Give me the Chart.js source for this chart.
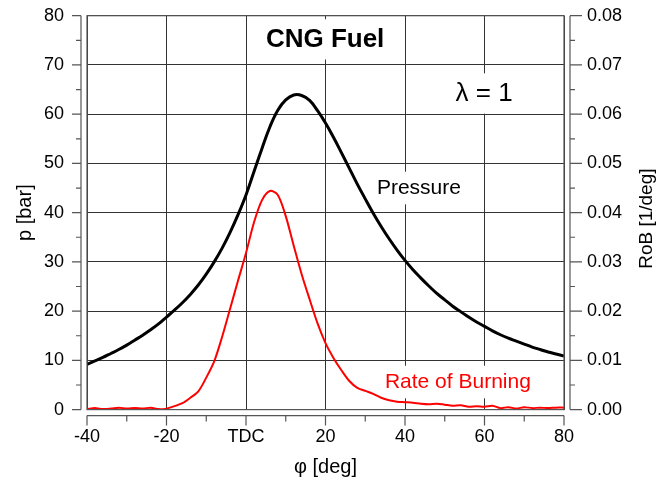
<!DOCTYPE html>
<html>
<head>
<meta charset="utf-8">
<script src="https://cdn.jsdelivr.net/npm/chart.js@4.4.1/dist/chart.umd.min.js"></script>
<style>
  html, body { margin: 0; padding: 0; background: #fff; }
</style>
</head>
<body>
<canvas id="grafico" width="672" height="480"></canvas>
<script>
const FONT = "'Liberation Sans', Arial, sans-serif";

// crank angle [deg]
const angles = [
  -40, -38, -36, -34, -32, -30, -28, -26, -24, -22,
  -20, -18, -16, -14, -12, -10, -8, -6, -4, -2,
  0, 2, 4, 6, 8, 10, 12, 14, 16, 18,
  20, 22, 24, 26, 28, 30, 32, 34, 36, 38,
  40, 42, 44, 46, 48, 50, 52, 54, 56, 58,
  60, 62, 64, 66, 68, 70, 72, 74, 76, 78,
  80
];

// cylinder pressure [bar]
const pressure = [
  9.2, 9.9, 10.6, 11.4, 12.2, 13.1, 14.1, 15.1, 16.2, 17.4,
  18.8, 20.2, 21.7, 23.4, 25.3, 27.5, 30.0, 32.8, 36.0, 39.6,
  43.6, 48.3, 53.0, 57.4, 60.8, 62.9, 63.9, 63.8, 62.8, 60.7,
  58.2, 55.3, 52.2, 49.0, 45.8, 42.8, 39.9, 37.2, 34.7, 32.4,
  30.3, 28.4, 26.7, 25.1, 23.6, 22.3, 21.0, 19.9, 18.8, 17.8,
  16.9, 16.0, 15.2, 14.5, 13.9, 13.3, 12.7, 12.2, 11.7, 11.3,
  10.9
];

// rate of burning [1/deg]
const rateOfBurning = [
  0.0001, 0.0003, 0.0001, 0.0002, 0.0004, 0.0002, 0.0003, 0.0002, 0.0004, 0.0001,
  0.0002, 0.0007, 0.0013, 0.0024, 0.0037, 0.0065, 0.0098, 0.0148, 0.0205, 0.0262,
  0.0318, 0.0380, 0.0425, 0.0444, 0.0436, 0.0393, 0.0333, 0.0275, 0.0224, 0.0175,
  0.0135, 0.0105, 0.0080, 0.0058, 0.0044, 0.0038, 0.0032, 0.0024, 0.0019, 0.0016,
  0.0015, 0.0014, 0.0012, 0.0011, 0.0012, 0.0010, 0.0008, 0.0009, 0.0006, 0.0007,
  0.0006, 0.0008, 0.0003, 0.0005, 0.0002, 0.0005, 0.0003, 0.0004, 0.0003, 0.0004,
  0.0004
];

// text labels inside the plot (x in deg, y in bar)
const notes = [
  { text: "CNG Fuel", x: 19.9, y: 75.2, size: 26, bold: true, color: "#000" },
  { text: "λ = 1", x: 59.9, y: 64.2, size: 26, bold: false, color: "#000" },
  { text: "Pressure", x: 43.5, y: 45.0, size: 21, bold: false, color: "#000" },
  { text: "Rate of Burning", x: 53.3, y: 5.6, size: 21, bold: false, color: "#ff0000" }
];

/* axes drawn a bit away from the frame, like the original */
const offsetAxes = {
  id: "offsetAxes",
  beforeDatasetsDraw(chart) {
    const { ctx, scales } = chart;
    ctx.save();
    ctx.fillStyle = "#fff";
    notes.forEach(n => {
      ctx.font = (n.bold ? "bold " : "") + n.size + "px " + FONT;
      const w = ctx.measureText(n.text).width + 12;
      const h = n.size * 1.55;
      const cx = scales.x.getPixelForValue(n.x);
      const cy = scales.y.getPixelForValue(n.y);
      ctx.fillRect(cx - w / 2, cy - h / 2, w, h);
    });
    ctx.restore();
  },
  afterDraw(chart) {
    const { ctx, chartArea: a, scales } = chart;
    const gap = 6;
    ctx.save();
    ctx.strokeStyle = "#555";
    ctx.lineWidth = 1.2;

    // frame
    ctx.strokeRect(a.left, a.top, a.right - a.left, a.bottom - a.top);

    // left axis
    const lx = a.left - gap;
    ctx.beginPath();
    ctx.moveTo(lx, a.top);
    ctx.lineTo(lx, a.bottom);
    for (let v = 0; v <= 80; v += 5) {
      const py = scales.y.getPixelForValue(v);
      ctx.moveTo(lx, py);
      ctx.lineTo(lx - (v % 10 === 0 ? 9 : 5), py);
    }
    // right axis
    const rx = a.right + gap;
    ctx.moveTo(rx, a.top);
    ctx.lineTo(rx, a.bottom);
    for (let i = 0; i <= 16; i++) {
      const py = scales.y2.getPixelForValue(i * 0.005);
      ctx.moveTo(rx, py);
      ctx.lineTo(rx + (i % 2 === 0 ? 12 : 5), py);
    }
    // bottom axis
    const by = a.bottom + gap;
    ctx.moveTo(a.left, by);
    ctx.lineTo(a.right, by);
    for (let v = -40; v <= 80; v += 10) {
      const px = scales.x.getPixelForValue(v);
      ctx.moveTo(px, by);
      ctx.lineTo(px, by + (v % 20 === 0 ? 10 : 6));
    }
    ctx.stroke();

    // labels inside the plot
    ctx.textAlign = "center";
    ctx.textBaseline = "middle";
    notes.forEach(n => {
      ctx.font = (n.bold ? "bold " : "") + n.size + "px " + FONT;
      ctx.fillStyle = n.color;
      ctx.fillText(n.text, scales.x.getPixelForValue(n.x), scales.y.getPixelForValue(n.y));
    });

    // right axis title, reading upwards
    ctx.translate(647, (a.top + a.bottom) / 2 + 6);
    ctx.rotate(-Math.PI / 2);
    ctx.font = "19px " + FONT;
    ctx.fillStyle = "#000";
    ctx.fillText("RoB [1/deg]", 0, 0);
    ctx.restore();
  }
};

const tickFont = { family: FONT, size: 18 };
const titleFont = { family: FONT, size: 20 };

function noPad(s) {
  s.paddingTop = 0;
  s.paddingBottom = 0;
  s.paddingLeft = 0;
  s.paddingRight = 0;
}

new Chart(document.getElementById("grafico"), {
  type: "line",
  data: {
    datasets: [
      {
        label: "Pressure",
        data: angles.map((a, i) => ({ x: a, y: pressure[i] })),
        yAxisID: "y",
        borderColor: "#000",
        borderWidth: 3,
        pointRadius: 0,
        tension: 0.4
      },
      {
        label: "Rate of Burning",
        data: angles.map((a, i) => ({ x: a, y: rateOfBurning[i] })),
        yAxisID: "y2",
        borderColor: "#ff0000",
        borderWidth: 2,
        pointRadius: 0,
        tension: 0.3
      }
    ]
  },
  options: {
    responsive: false,
    animation: false,
    devicePixelRatio: 1,
    layout: { padding: { top: 15.7, left: 0, right: 0, bottom: 0 } },
    plugins: { legend: { display: false }, tooltip: { enabled: false } },
    scales: {
      x: {
        type: "linear",
        min: -40,
        max: 80,
        ticks: {
          stepSize: 20,
          padding: 17,
          color: "#000",
          font: tickFont,
          maxRotation: 0,
          callback: v => v === 0 ? "TDC" : v
        },
        grid: { color: "#333", lineWidth: 1, drawTicks: false },
        border: { display: false },
        title: { display: true, text: "φ [deg]", color: "#000", font: titleFont, padding: { top: 0, bottom: 1 } },
        afterFit: s => { s.height = 70.4; noPad(s); }
      },
      y: {
        position: "left",
        min: 0,
        max: 80,
        ticks: { stepSize: 10, padding: 23, color: "#000", font: tickFont },
        grid: { color: "#333", lineWidth: 1, drawTicks: false },
        border: { display: false },
        title: { display: true, text: "p [bar]", color: "#000", font: titleFont, padding: { top: 13, bottom: 0 } },
        afterFit: s => { s.width = 87; noPad(s); }
      },
      y2: {
        position: "right",
        min: 0,
        max: 0.08,
        ticks: { stepSize: 0.01, padding: 23, color: "#000", font: tickFont, callback: v => v.toFixed(2) },
        grid: { drawOnChartArea: false, drawTicks: false },
        border: { display: false },
        afterFit: s => { s.width = 108; noPad(s); }
      }
    }
  },
  plugins: [offsetAxes]
});
</script>
</body>
</html>
